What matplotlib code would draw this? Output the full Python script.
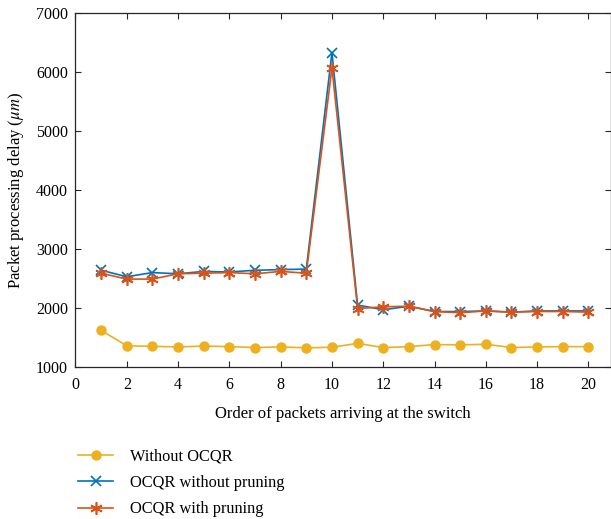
import matplotlib
matplotlib.use("Agg")
import matplotlib.pyplot as plt
import numpy as np

plt.rcParams['font.family'] = ['Liberation Serif', 'DejaVu Serif']
plt.rcParams['mathtext.fontset'] = 'stix'

order = np.arange(1, 21)
without_ocqr = [1620, 1360, 1350, 1340, 1355, 1345, 1330, 1340, 1325, 1335,
                1400, 1330, 1345, 1380, 1375, 1385, 1330, 1340, 1345, 1345]
ocqr_no_prune = [2640, 2530, 2600, 2580, 2620, 2610, 2640, 2650, 2660, 6330,
                 2050, 1970, 2030, 1940, 1940, 1950, 1930, 1950, 1950, 1950]
ocqr_prune = [2590, 2490, 2490, 2580, 2590, 2600, 2580, 2620, 2590, 6070,
              1990, 2020, 2030, 1940, 1920, 1950, 1930, 1940, 1940, 1930]

fig = plt.figure(figsize=(6.11, 5.19), dpi=100)
ax = fig.add_axes([0.1235, 0.2929, 0.8765, 0.682])

ax.plot(order, without_ocqr, color='#EDB120', marker='o', markersize=6.5,
        lw=1.2, label='Without OCQR')
ax.plot(order, ocqr_no_prune, color='#0072BD', marker='x', markersize=6.5,
        mew=1.2, lw=1.2, label='OCQR without pruning')
ax.plot(order, ocqr_prune, color='#D95319', marker=(6, 2, 0), markersize=9,
        mew=1.2, lw=1.2, label='OCQR with pruning')

ax.set_xlim(0, 20.88)
ax.set_ylim(1000, 7000)
ax.set_xticks(range(0, 21, 2))
ax.set_yticks(range(1000, 7001, 1000))
ax.tick_params(direction='in', top=True, right=True, length=4, labelsize=11.5,
               color='#262626')
ax.tick_params(axis='y', pad=5.5)
ax.tick_params(axis='x', pad=7.5)
for s in ax.spines.values():
    s.set_color('#262626')
    s.set_linewidth(0.9)

ax.set_xlabel('Order of packets arriving at the switch', fontsize=12, labelpad=9)
ax.set_ylabel(r'Packet processing delay ($\mu m$)', fontsize=12, labelpad=7)

leg = ax.legend(loc='upper left', bbox_to_anchor=(-0.022, -0.19), frameon=False,
                fontsize=11.8, handlelength=2.1, handletextpad=1.05, labelspacing=0.62)

fig.savefig('out.png', dpi=100)
